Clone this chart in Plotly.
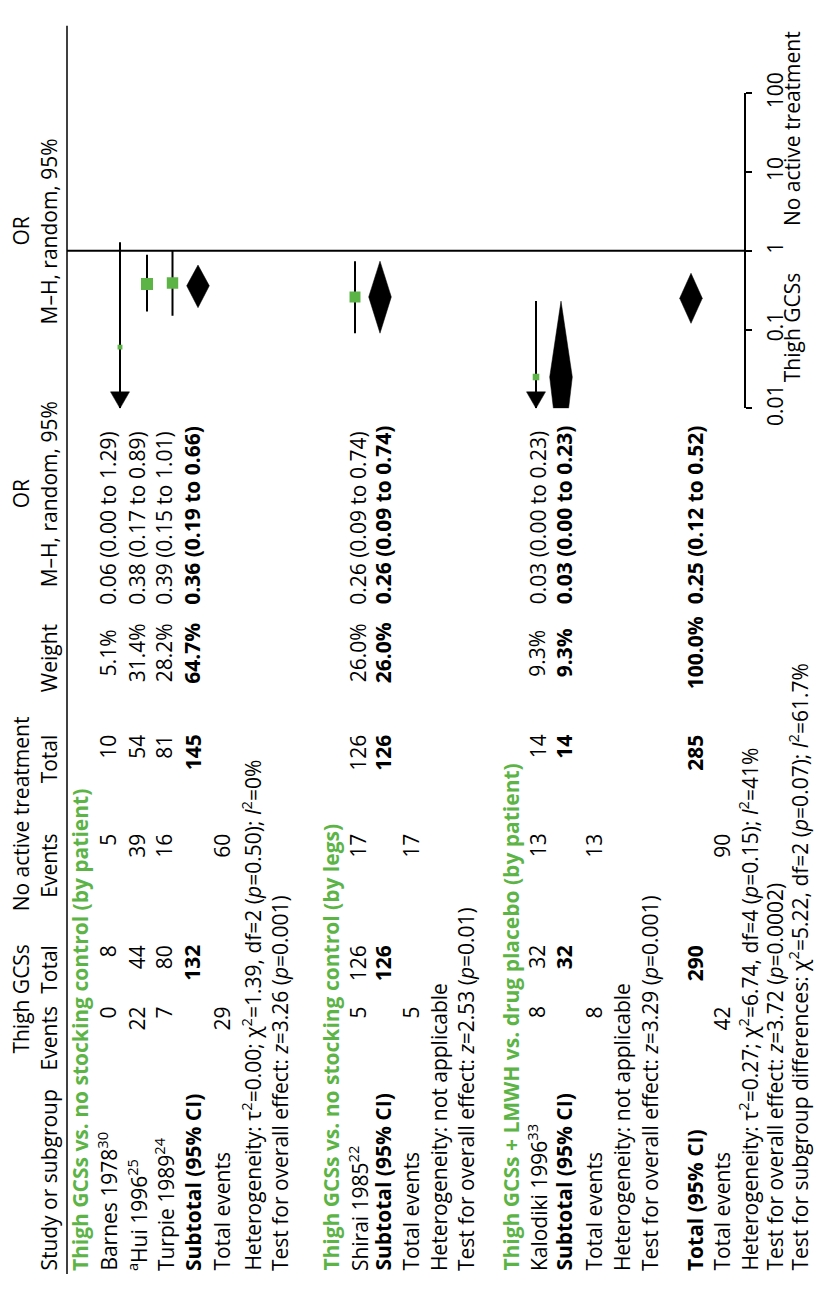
import math
import plotly.graph_objects as go

# ---------------- data ----------------
study_names = ["Barnes 1978<sup>30</sup>", "<sup>a</sup>Hui 1996<sup>25</sup>",
               "Turpie 1989<sup>24</sup>", "Shirai 1985<sup>22</sup>",
               "Kalodiki 1996<sup>33</sup>"]
study_group = [0, 0, 0, 1, 2]
gcs_events = [0, 22, 7, 5, 8]
gcs_total = [8, 44, 80, 126, 32]
ctl_events = [5, 39, 16, 17, 13]
ctl_total = [10, 54, 81, 126, 14]
study_weight = [5.1, 31.4, 28.2, 26.0, 9.3]
study_or = [0.06, 0.38, 0.39, 0.26, 0.025]
study_lo = [0.002, 0.17, 0.15, 0.09, 0.002]
study_hi = [1.29, 0.89, 1.01, 0.74, 0.23]
study_or_text = ["0.06 (0.00 to 1.29)", "0.38 (0.17 to 0.89)", "0.39 (0.15 to 1.01)",
                 "0.26 (0.09 to 0.74)", "0.03 (0.00 to 0.23)"]

group_titles = ["Thigh GCSs vs. no stocking control (by patient)",
                "Thigh GCSs vs. no stocking control (by legs)",
                "Thigh GCSs + LMWH vs. drug placebo (by patient)"]
group_gcs_total = [132, 126, 32]
group_ctl_total = [145, 126, 14]
group_gcs_events = [29, 5, 8]
group_ctl_events = [60, 17, 13]
group_weight = [64.7, 26.0, 9.3]
group_or = [0.36, 0.26, 0.025]
group_lo = [0.19, 0.09, 0.0015]
group_hi = [0.66, 0.74, 0.23]
group_or_text = ["0.36 (0.19 to 0.66)", "0.26 (0.09 to 0.74)", "0.03 (0.00 to 0.23)"]
group_het = ["Heterogeneity: τ<sup>2</sup>=0.00; χ<sup>2</sup>=1.39, df=2 (<i>p</i>=0.50); <i>I</i><sup>2</sup>=0%",
             "Heterogeneity: not applicable",
             "Heterogeneity: not applicable"]
group_test = ["Test for overall effect: <i>z</i>=3.26 (<i>p</i>=0.001)",
              "Test for overall effect: <i>z</i>=2.53 (<i>p</i>=0.01)",
              "Test for overall effect: <i>z</i>=3.29 (<i>p</i>=0.001)"]

total_gcs_total = 290
total_ctl_total = 285
total_gcs_events = 42
total_ctl_events = 90
total_weight = 100.0
total_or = 0.25
total_lo = 0.12
total_hi = 0.52
total_or_text = "0.25 (0.12 to 0.52)"
total_het = "Heterogeneity: τ<sup>2</sup>=0.27; χ<sup>2</sup>=6.74, df=4 (<i>p</i>=0.15); <i>I</i><sup>2</sup>=41%"
total_test = "Test for overall effect: <i>z</i>=3.72 (<i>p</i>=0.0002)"
subgroup_test = "Test for subgroup differences: χ<sup>2</sup>=5.22, df=2 (<i>p</i>=0.07); <i>I</i><sup>2</sup>=61.7%"

axis_ticks = [0.01, 0.1, 1, 10, 100]
axis_tick_labels = ["0.01", "0.1", "1", "10", "100"]
favours_left = "Thigh GCSs"
favours_right = "No active treatment"

# ---------------- layout (pixel positions in the rotated page) ----------------
W, H = 814, 1294
FONT = "Open Sans"
FS = 21
GREEN = "#5cb446"

# row centres (x, px) for text
study_text_x = [108, 137, 164, 358, 537.5]
group_title_x = [80, 331, 511]
group_sub_x = [192.5, 383, 564]
group_te_x = [222, 411, 594]
group_het_x = [252, 439, 622]
group_test_x = [280, 466, 650]
tot_x, tot_te_x, tot_het_x, tot_test_x, subdiff_x = 695, 722, 749, 775.5, 799
h1_x, h2_x = 21, 49
# row centres (x, px) for plot marks
study_mark_x = [120, 147, 172.5, 355, 536]
group_mark_x = [198, 380, 561]
total_mark_x = 691

# column anchors (y, px)
Y_STUDY = 1290      # bottom anchor
Y_GE = 1015         # top anchor (right aligned)
Y_GT = 952
Y_CE = 837
Y_CT = 735
Y_W = 652           # centre
Y_OR = 603          # bottom anchor (left aligned)

AX_X = 745
PX_TOP, PX_BOT = 74.6, 399.4   # OR=100 and OR=0.01


def py(ypx):
    return 1 - ypx / H


ann = []


def txt(x, ypx, s, anchor="middle", bold=False, color="black", size=FS):
    if bold:
        s = "<b>" + s + "</b>"
    ann.append(dict(x=x, y=py(ypx), xref="x", yref="paper", text=s, showarrow=False,
                    textangle=-90, xanchor="center", yanchor=anchor, borderpad=0,
                    font=dict(family=FONT, size=size, color=color)))


# headers
txt(h1_x, 1008, "Thigh GCSs")
txt(h1_x, 818, "No active treatment")
txt(h1_x, 488, "OR")
txt(h1_x, 217, "OR")
txt(h2_x, Y_STUDY, "Study or subgroup", "bottom")
txt(h2_x, Y_GE, "Events", "top")
txt(h2_x, Y_GT, "Total", "top")
txt(h2_x, Y_CE, "Events", "top")
txt(h2_x, Y_CT, "Total", "top")
txt(h2_x, 657, "Weight")
txt(h2_x, 488, "M–H, random, 95%")
txt(h2_x, 217, "M–H, random, 95%")

# groups
for g in range(3):
    txt(group_title_x[g], Y_STUDY, group_titles[g], "bottom", bold=True, color=GREEN)
    for i in range(len(study_names)):
        if study_group[i] != g:
            continue
        x = study_text_x[i]
        txt(x, Y_STUDY, study_names[i], "bottom")
        txt(x, Y_GE, str(gcs_events[i]), "top")
        txt(x, Y_GT, str(gcs_total[i]), "top")
        txt(x, Y_CE, str(ctl_events[i]), "top")
        txt(x, Y_CT, str(ctl_total[i]), "top")
        txt(x, Y_W, f"{study_weight[i]:.1f}%")
        txt(x, Y_OR, study_or_text[i], "bottom")
    x = group_sub_x[g]
    txt(x, Y_STUDY, "Subtotal (95% CI)", "bottom", bold=True)
    txt(x, Y_GT, str(group_gcs_total[g]), "top", bold=True)
    txt(x, Y_CT, str(group_ctl_total[g]), "top", bold=True)
    txt(x, Y_W, f"{group_weight[g]:.1f}%", bold=True)
    txt(x, Y_OR, group_or_text[g], "bottom", bold=True)
    x = group_te_x[g]
    txt(x, Y_STUDY, "Total events", "bottom")
    txt(x, Y_GE, str(group_gcs_events[g]), "top")
    txt(x, Y_CE, str(group_ctl_events[g]), "top")
    txt(group_het_x[g], Y_STUDY, group_het[g], "bottom")
    txt(group_test_x[g], Y_STUDY, group_test[g], "bottom")

# overall
txt(tot_x, Y_STUDY, "Total (95% CI)", "bottom", bold=True)
txt(tot_x, Y_GT, str(total_gcs_total), "top", bold=True)
txt(tot_x, Y_CT, str(total_ctl_total), "top", bold=True)
txt(tot_x, Y_W, f"{total_weight:.1f}%", bold=True)
txt(tot_x, Y_OR, total_or_text, "bottom", bold=True)
txt(tot_te_x, Y_STUDY, "Total events", "bottom")
txt(tot_te_x, Y_GE, str(total_gcs_events), "top")
txt(tot_te_x, Y_CE, str(total_ctl_events), "top")
txt(tot_het_x, Y_STUDY, total_het, "bottom")
txt(tot_test_x, Y_STUDY, total_test, "bottom")
txt(subdiff_x, Y_STUDY, subgroup_test, "bottom")

# favours labels
txt(792, 258, favours_left, "top")
txt(792, 213, favours_right, "bottom")

# ---------------- plot marks ----------------
fig = go.Figure()
LOWER = axis_ticks[0]
ARROW_LEN_DEC = 17 / ((PX_BOT - PX_TOP) / 4)   # arrow head length in decades
ARROW_HW = 9.5
DIAM_HW = 11.3

# CI lines
cx, cy = [], []
for i in range(len(study_names)):
    x = study_mark_x[i]
    cx += [x, x, None]
    cy += [max(study_lo[i], LOWER), study_hi[i], None]
fig.add_trace(go.Scatter(x=cx, y=cy, mode="lines", line=dict(color="black", width=2),
                         hoverinfo="skip", showlegend=False))

# arrows for truncated CIs
for i in range(len(study_names)):
    if study_lo[i] < LOWER:
        x = study_mark_x[i]
        base = LOWER * 10 ** ARROW_LEN_DEC
        fig.add_trace(go.Scatter(x=[x - ARROW_HW, x + ARROW_HW, x, x - ARROW_HW],
                                 y=[base, base, LOWER, base], mode="lines", fill="toself",
                                 fillcolor="black", line=dict(color="black", width=0.5),
                                 hoverinfo="skip", showlegend=False))

# squares
fig.add_trace(go.Scatter(x=study_mark_x, y=study_or, mode="markers",
                         marker=dict(symbol="square", color=GREEN, opacity=1,
                                     size=[2.15 * math.sqrt(w) for w in study_weight],
                                     line=dict(width=0)),
                         hoverinfo="skip", showlegend=False))


def diamond(x, est, lo, hi):
    le, ll = math.log10(est), math.log10(lo)
    lc = math.log10(LOWER)
    xs = [x, x + DIAM_HW]
    ys = [hi, est]
    if ll < lc:
        wc = DIAM_HW * (lc - ll) / (le - ll)
        xs += [x + wc, x - wc]
        ys += [LOWER, LOWER]
    else:
        xs += [x]
        ys += [lo]
    xs += [x - DIAM_HW, x]
    ys += [est, hi]
    fig.add_trace(go.Scatter(x=xs, y=ys, mode="lines", fill="toself", fillcolor="black",
                             line=dict(color="black", width=0.5),
                             hoverinfo="skip", showlegend=False))


for g in range(3):
    diamond(group_mark_x[g], group_or[g], group_lo[g], group_hi[g])
diamond(total_mark_x, total_or, total_lo, total_hi)

shapes = [
    dict(type="line", xref="x", yref="y", x0=67, x1=AX_X, y0=1, y1=1,
         line=dict(color="black", width=2)),
    dict(type="line", xref="x", yref="paper", x0=67, x1=67, y0=py(1292), y1=py(5),
         line=dict(color="black", width=1.5)),
]

fig.update_layout(
    width=W, height=H, autosize=False,
    margin=dict(l=0, r=0, t=0, b=0, pad=0),
    paper_bgcolor="white", plot_bgcolor="rgba(0,0,0,0)",
    showlegend=False,
    annotations=ann, shapes=shapes,
    xaxis=dict(range=[0, W], domain=[0, 1], visible=False, fixedrange=True),
    yaxis=dict(type="log", range=[-2, 2], domain=[py(PX_BOT), py(PX_TOP)],
               anchor="free", position=AX_X / W, side="right",
               showline=True, linecolor="black", linewidth=1.5,
               ticks="outside", ticklen=6, tickwidth=1.5, tickcolor="black",
               tickvals=axis_ticks, ticktext=axis_tick_labels, tickangle=-90,
               tickfont=dict(family=FONT, size=FS, color="black"),
               ticklabelstandoff=6,
               showgrid=False, zeroline=False, fixedrange=True),
)

fig.write_html("out.html", config={"displayModeBar": False},
               post_script="document.body.style.margin='0';document.body.style.overflow='hidden';")
